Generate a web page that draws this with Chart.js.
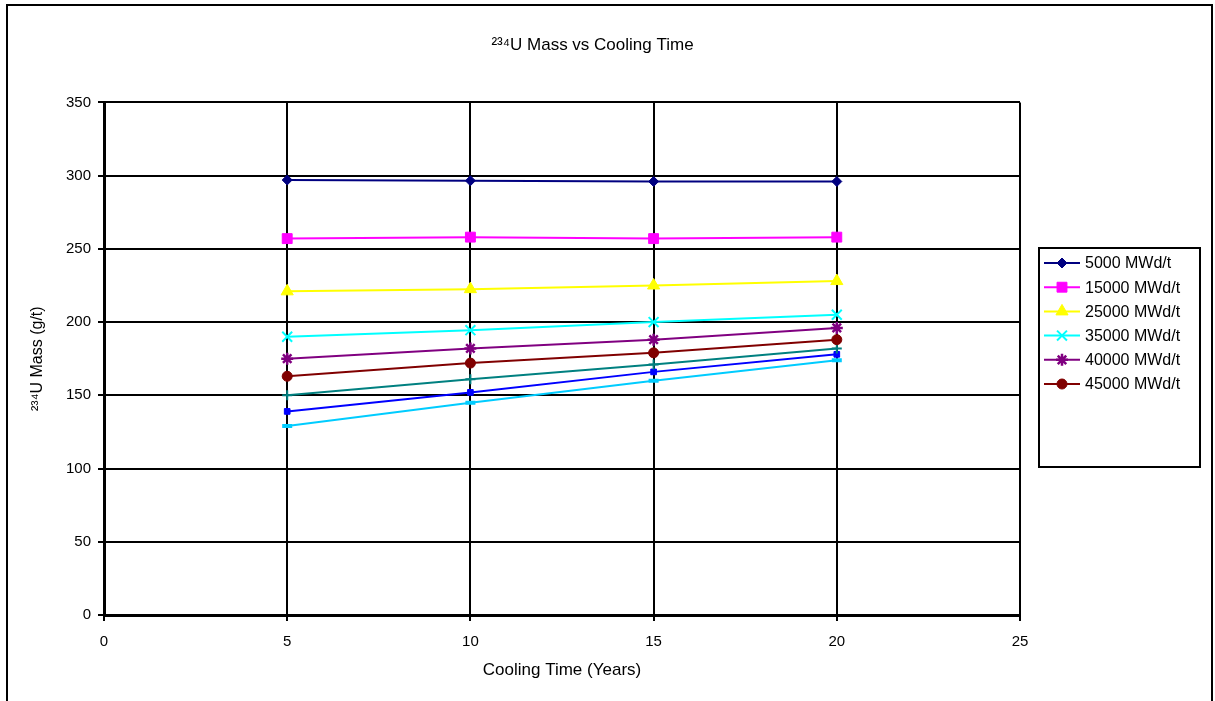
<!DOCTYPE html>
<html>
<head>
<meta charset="utf-8">
<script src="https://cdn.jsdelivr.net/npm/chart.js@4/dist/chart.umd.min.js"></script>
<style>
  html, body { margin: 0; padding: 0; background: #fff; }
  #wrap { width: 1215px; height: 701px; position: relative; }
</style>
</head>
<body>
<div id="wrap"><canvas id="c" width="1215" height="701"></canvas></div>
<script>
// ---- data ----
const coolingYears = [5, 10, 15, 20];
const seriesNames = ['5000 MWd/t', '15000 MWd/t', '25000 MWd/t', '35000 MWd/t', '40000 MWd/t', '45000 MWd/t', '50000 MWd/t', '55000 MWd/t', '60000 MWd/t'];
const u234_5000  = [297, 296.5, 296, 296];
const u234_15000 = [257, 258, 257, 258];
const u234_25000 = [221, 222.5, 225, 228];
const u234_35000 = [190, 194.5, 200, 205];
const u234_40000 = [175, 182, 188, 196];
const u234_45000 = [163, 172, 179, 188];
const u234_50000 = [150, 161, 171, 182];
const u234_55000 = [139, 152, 166, 178];
const u234_60000 = [129, 145, 160, 174];
const xTicks = [0, 5, 10, 15, 20, 25];
const yTicks = [0, 50, 100, 150, 200, 250, 300, 350];
const legendCount = 6;

const allValues = [u234_5000, u234_15000, u234_25000, u234_35000, u234_40000, u234_45000, u234_50000, u234_55000, u234_60000];
const colors = ['#000080', '#FF00FF', '#FFFF00', '#00FFFF', '#800080', '#800000', '#008080', '#0000FF', '#00CCFF'];
const styles = ['rectRot', 'rect', 'triangle', 'crossRot', 'star', 'circle', 'cross', 'rect', 'line'];
const radii  = [5, 7, 7, 7, 6, 5, 5, 4, 5];
const bws    = [1, 1, 1, 2, 2.5, 1, 2, 1, 4];

const FONT = '"Liberation Sans", Arial, sans-serif';

const datasets = allValues.map((vals, i) => ({
  label: seriesNames[i],
  data: coolingYears.map((x, j) => ({ x: x, y: vals[j] })),
  borderColor: colors[i],
  backgroundColor: colors[i],
  borderWidth: 2,
  pointStyle: styles[i],
  pointRadius: radii[i],
  pointBorderWidth: bws[i],
  pointBackgroundColor: colors[i],
  pointBorderColor: colors[i],
  tension: 0
}));

const framePlugin = {
  id: 'frame',
  beforeDraw(chart) {
    const ctx = chart.ctx;
    ctx.save();
    ctx.fillStyle = '#fff';
    ctx.fillRect(0, 0, chart.width, chart.height);
    ctx.strokeStyle = '#000';
    ctx.lineWidth = 2;
    ctx.strokeRect(7, 5, 1205, 710);
    ctx.restore();
  }
};

const legendPlugin = {
  id: 'boxLegend',
  afterDraw(chart) {
    const ctx = chart.ctx;
    const left = 1039, top = 248, w = 161, h = 219;
    ctx.save();
    ctx.strokeStyle = '#000';
    ctx.lineWidth = 2;
    ctx.strokeRect(left, top, w, h);
    ctx.font = '16px ' + FONT;
    ctx.textBaseline = 'middle';
    ctx.textAlign = 'left';
    for (let i = 0; i < legendCount; i++) {
      const ds = chart.data.datasets[i];
      const y = 263 + i * 24.2;
      ctx.strokeStyle = ds.borderColor;
      ctx.lineWidth = 2;
      ctx.beginPath();
      ctx.moveTo(1044, y);
      ctx.lineTo(1080, y);
      ctx.stroke();
      ctx.fillStyle = ds.pointBackgroundColor;
      ctx.strokeStyle = ds.pointBorderColor;
      ctx.lineWidth = ds.pointBorderWidth;
      Chart.helpers.drawPoint(ctx, { pointStyle: ds.pointStyle, radius: ds.pointRadius, borderWidth: ds.pointBorderWidth, rotation: 0 }, 1062, y);
      ctx.fillStyle = '#000';
      ctx.fillText(ds.label, 1085, y + 1);
    }
    ctx.restore();
  }
};

new Chart(document.getElementById('c'), {
  type: 'line',
  data: { datasets: datasets },
  options: {
    responsive: false,
    animation: false,
    layout: { padding: { left: 0, right: 30, top: 0, bottom: 0 } },
    plugins: {
      legend: { display: false },
      tooltip: { enabled: false },
      title: {
        display: true,
        text: '²³⁴U Mass vs Cooling Time',
        color: '#000',
        font: { family: FONT, size: 17, weight: 'normal' },
        padding: { top: 35, bottom: 47 }
      }
    },
    scales: {
      x: {
        type: 'linear',
        min: xTicks[0],
        max: xTicks[xTicks.length - 1],
        afterBuildTicks(scale) { scale.ticks = xTicks.map(v => ({ value: v })); },
        afterFit(scale) { scale.height = 86; },
        ticks: { color: '#000', font: { family: FONT, size: 15 }, padding: 12, maxRotation: 0 },
        grid: { color: '#000', lineWidth: 2, tickLength: 6, drawTicks: true },
        border: { color: '#000', width: 3 },
        title: {
          display: true,
          text: 'Cooling Time (Years)',
          color: '#000',
          font: { family: FONT, size: 17 },
          padding: { top: 0, bottom: 20 }
        }
      },
      y: {
        type: 'linear',
        min: yTicks[0],
        max: yTicks[yTicks.length - 1],
        afterBuildTicks(scale) { scale.ticks = yTicks.map(v => ({ value: v })); },
        afterFit(scale) { scale.width = 104; },
        ticks: { color: '#000', font: { family: FONT, size: 15 }, padding: 7 },
        grid: { color: '#000', lineWidth: 2, tickLength: 6, drawTicks: true },
        border: { color: '#000', width: 3 },
        title: {
          display: true,
          text: '²³⁴U Mass (g/t)',
          color: '#000',
          font: { family: FONT, size: 16 },
          padding: { top: 28, bottom: 0 }
        }
      },
      legendSpace: {
        type: 'linear',
        position: 'right',
        display: true,
        min: 0,
        max: 1,
        afterFit(scale) { scale.width = 165; },
        ticks: { display: false },
        grid: { display: false, drawTicks: false },
        border: { display: false }
      }
    }
  },
  plugins: [framePlugin, legendPlugin]
});
</script>
</body>
</html>
